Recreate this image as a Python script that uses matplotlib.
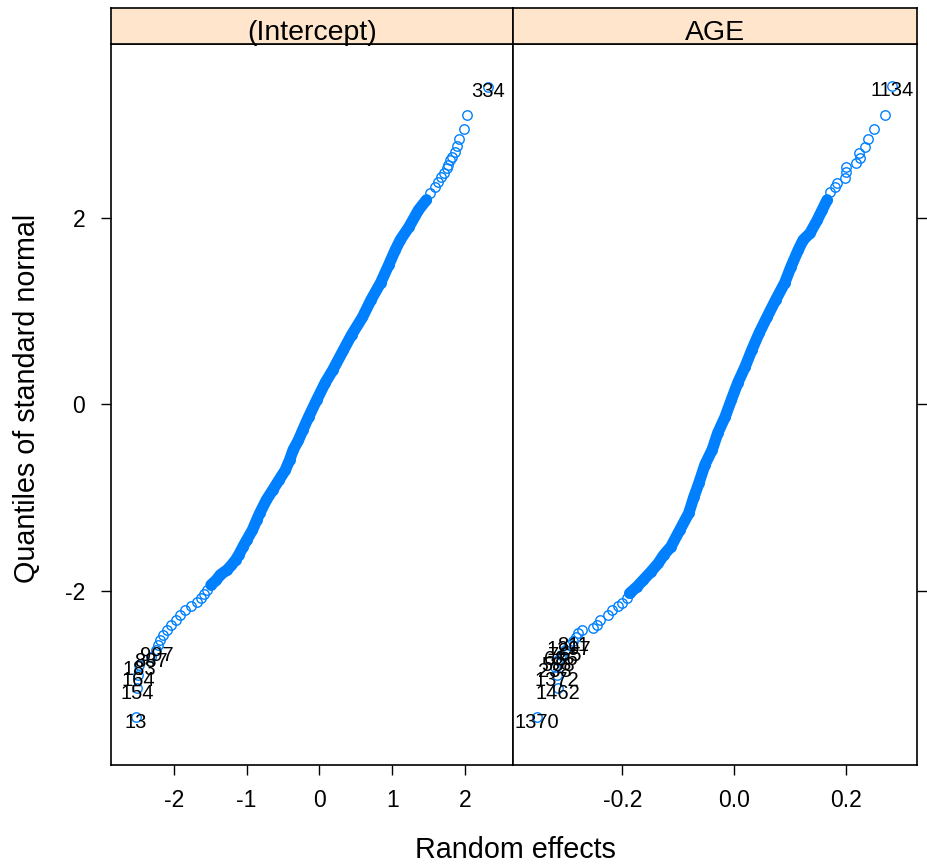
import matplotlib
matplotlib.use("Agg")
import matplotlib.pyplot as plt
import numpy as np

plt.rcParams["font.family"] = ["Liberation Sans", "DejaVu Sans"]
plt.rcParams["axes.unicode_minus"] = False

BLUE = "#0080ff"
STRIP = "#ffe5cc"

# QQ points per random effect: sample quantile (x) vs standard-normal quantile (y)
icpt_q = [-3.36, -3.05, -2.91, -2.80, -2.71, -2.64, -2.58, -2.53, -2.48, -2.42,
          -2.37, -2.32, -2.26, -2.21, -2.17, -2.12, -2.08, -2.04, -1.99, -1.94,
          -1.89, -1.83, -1.78, -1.73, -1.67, -1.62, -1.53, -1.46, -1.35, -1.24,
          -1.17, -1.03, -0.92, -0.82, -0.71, -0.60, -0.49, -0.39, -0.28, -0.14,
          0.04, 0.23, 0.36, 0.58, 0.74, 0.93, 1.12, 1.30, 1.49, 1.65,
          1.76, 1.90, 2.08, 2.19, 2.26, 2.33, 2.38, 2.43, 2.48, 2.53,
          2.56, 2.62, 2.65, 2.70, 2.77, 2.84, 2.95, 3.10, 3.40]
icpt_re = [-2.52, -2.50, -2.49, -2.48, -2.32, -2.24, -2.22, -2.19, -2.15, -2.10,
           -2.04, -1.97, -1.92, -1.85, -1.77, -1.68, -1.63, -1.59, -1.55, -1.49,
           -1.42, -1.36, -1.27, -1.21, -1.15, -1.11, -1.05, -1.00, -0.92, -0.86,
           -0.82, -0.73, -0.64, -0.56, -0.47, -0.41, -0.36, -0.29, -0.23, -0.15,
           -0.04, 0.08, 0.18, 0.33, 0.44, 0.59, 0.71, 0.84, 0.95, 1.04,
           1.11, 1.23, 1.36, 1.47, 1.52, 1.58, 1.63, 1.67, 1.71, 1.75,
           1.77, 1.79, 1.82, 1.86, 1.89, 1.92, 1.99, 2.03, 2.32]
icpt_ids = ["13", "154", "164", "183", "887", "997", "334"]
icpt_id_pos = [0, 1, 2, 3, 4, 5, 68]

age_q = [-3.36, -3.05, -2.91, -2.82, -2.75, -2.69, -2.64, -2.58, -2.54, -2.50,
         -2.46, -2.42, -2.40, -2.37, -2.32, -2.26, -2.21, -2.17, -2.13, -2.08,
         -2.03, -1.96, -1.89, -1.80, -1.71, -1.62, -1.53, -1.35, -1.17, -1.00,
         -0.85, -0.65, -0.49, -0.31, -0.14, 0.04, 0.23, 0.40, 0.58, 0.76,
         0.93, 1.12, 1.30, 1.47, 1.65, 1.76, 1.83, 1.97, 2.08, 2.19,
         2.27, 2.33, 2.37, 2.42, 2.49, 2.54, 2.58, 2.64, 2.69, 2.76,
         2.84, 2.95, 3.10, 3.41]
age_re = [-0.353, -0.316, -0.317, -0.321, -0.316, -0.310, -0.303, -0.296, -0.289, -0.283,
          -0.280, -0.273, -0.253, -0.246, -0.240, -0.226, -0.219, -0.208, -0.201, -0.192,
          -0.187, -0.174, -0.163, -0.149, -0.136, -0.126, -0.113, -0.097, -0.081, -0.072,
          -0.063, -0.052, -0.039, -0.029, -0.016, -0.005, 0.007, 0.020, 0.032, 0.045,
          0.059, 0.075, 0.091, 0.102, 0.115, 0.124, 0.136, 0.149, 0.158, 0.167,
          0.172, 0.181, 0.185, 0.199, 0.201, 0.201, 0.219, 0.226, 0.224, 0.235,
          0.240, 0.251, 0.271, 0.283]
age_ids = ["1370", "1462", "1372", "238", "588", "686", "765", "1297", "811", "1134"]
age_id_pos = [0, 1, 2, 3, 4, 5, 6, 7, 8, 63]

panels = [
    ("(Intercept)", icpt_re, icpt_q, icpt_ids, icpt_id_pos,
     (-2.863, 2.658), [-2, -1, 0, 1, 2], ["-2", "-1", "0", "1", "2"], (-1.95, 2.2)),
    ("AGE", age_re, age_q, age_ids, age_id_pos,
     (-0.396, 0.328), [-0.2, 0.0, 0.2], ["-0.2", "0.0", "0.2"], (-2.05, 2.2)),
]

W, H = 927, 867
fig = plt.figure(figsize=(W / 100, H / 100), dpi=100)

lefts = [111, 513]
rights = [513, 917]
top, bottom, strip_top = 44, 765, 8

for i, (name, xs, ys, ids, id_pos, xlim, xt, xtl, band) in enumerate(panels):
    x0, x1 = lefts[i], rights[i]
    ax = fig.add_axes([x0 / W, 1 - bottom / H, (x1 - x0) / W, (bottom - top) / H])
    sx = fig.add_axes([x0 / W, 1 - top / H, (x1 - x0) / W, (top - strip_top) / H])

    xs = np.array(xs)
    ys = np.array(ys)
    # the bulk of the points overlap into a solid band
    dense = (ys >= band[0]) & (ys <= band[1])
    ax.plot(xs[dense], ys[dense], "-", color=BLUE, lw=8.2,
            solid_capstyle="round", solid_joinstyle="round")
    ax.plot(xs, ys, "o", ms=6.8, mfc="none", mec=BLUE, mew=1.0)

    for lab, k in zip(ids, id_pos):
        ax.annotate(lab, (xs[k], ys[k]), xytext=(0, -3.5),
                    textcoords="offset points", ha="center", va="center",
                    fontsize=14.5, color="black")

    ax.set_xlim(*xlim)
    ax.set_ylim(-3.871, 3.861)
    ax.set_xticks(xt)
    ax.set_xticklabels(xtl)
    ax.set_yticks([-2, 0, 2])
    ax.tick_params(direction="out", length=7.5, width=1.0, labelsize=16.5,
                   colors="black")
    ax.tick_params(axis="x", pad=10)
    ax.tick_params(axis="y", pad=11)
    if i == 0:
        ax.tick_params(axis="y", left=True, right=False, labelleft=True)
    else:
        ax.tick_params(axis="y", left=False, right=True, labelleft=False)
    for sp in ax.spines.values():
        sp.set_linewidth(1.2)

    sx.set_facecolor(STRIP)
    sx.set_xticks([])
    sx.set_yticks([])
    for sp in sx.spines.values():
        sp.set_linewidth(1.2)
    sx.text(0.5, 0.1, name, transform=sx.transAxes, ha="center",
            va="baseline", fontsize=20.5)

fig.text(515 / W, 1 - 850 / H, "Random effects", ha="center", va="center",
         fontsize=20.7)
fig.text(27 / W, 1 - 398 / H, "Quantiles of standard normal", ha="center",
         va="center", rotation=90, fontsize=20.7)

fig.savefig("out.png", dpi=100)
